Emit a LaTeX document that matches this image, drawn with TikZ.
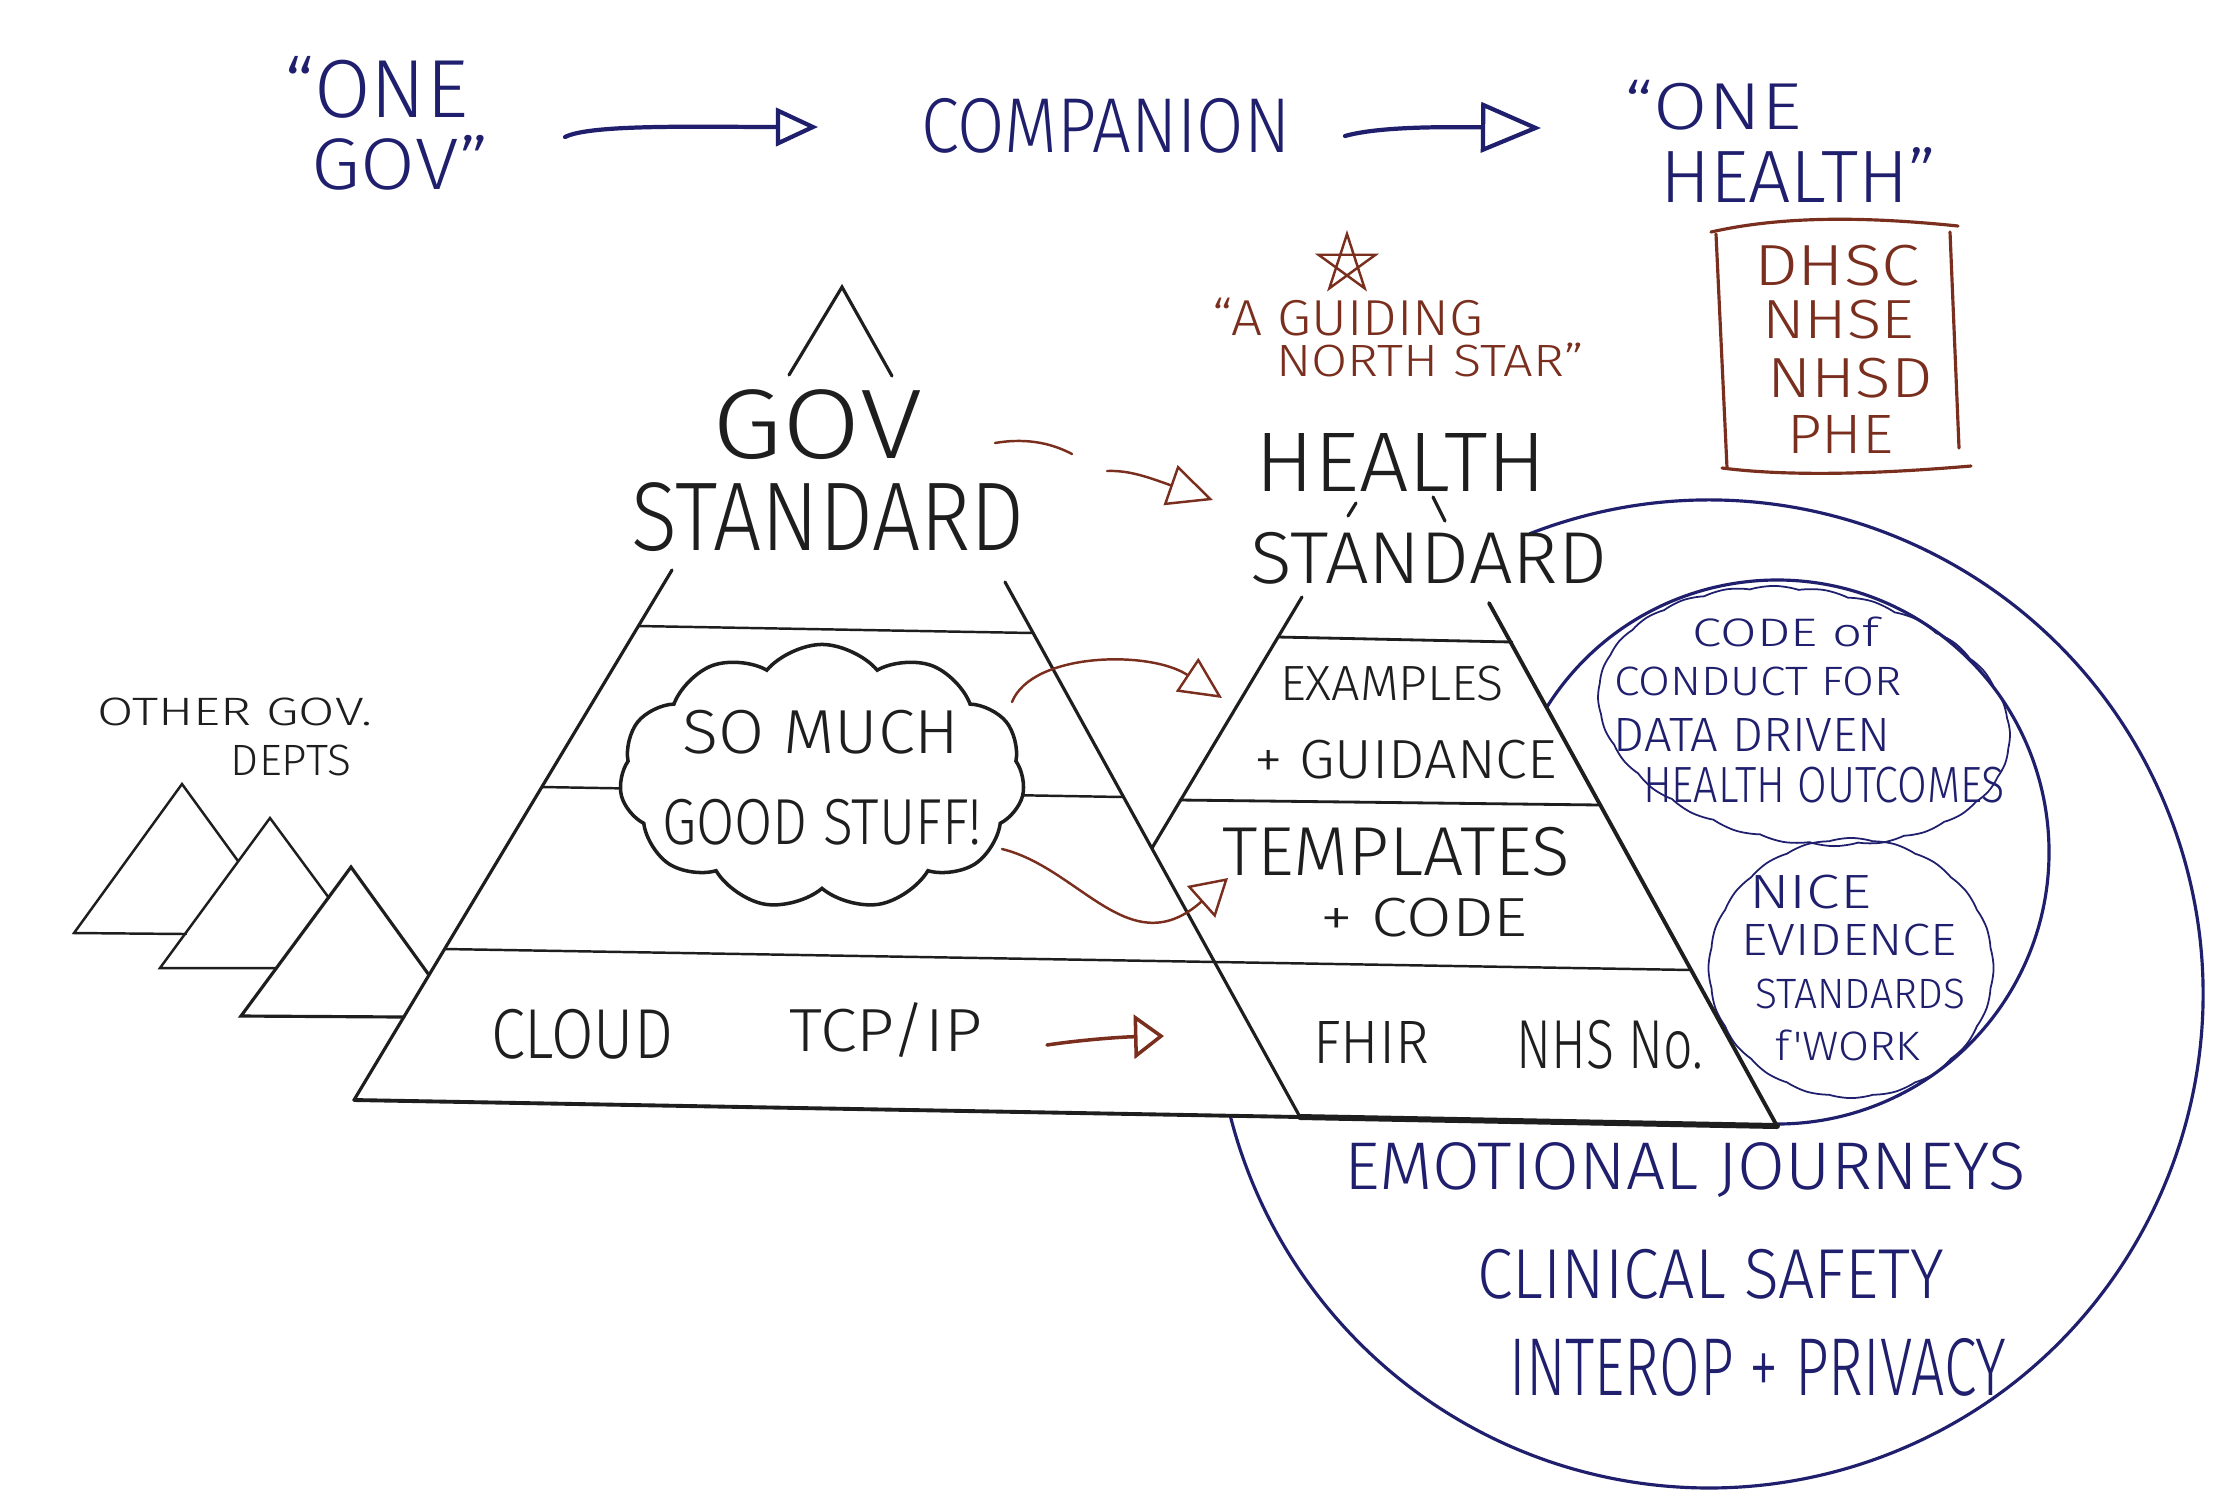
\documentclass[tikz,border=0pt]{standalone}
\usepackage{fontspec}
\usepackage{graphicx}
\IfFontExistsTF{Fira Sans Light}{\newfontfamily\handfont{Fira Sans Light}}{\newfontfamily\handfont{Fira Sans}}
\usetikzlibrary{arrows.meta,shapes.symbols,calc}
\definecolor{inkk}{HTML}{1E1E1E}
\definecolor{navy}{HTML}{1F1F6E}
\definecolor{rust}{HTML}{7A2E1E}
\newcommand{\hwt}[3]{\resizebox*{\dimexpr0.01cm*#1\relax}{\dimexpr0.01cm*#2\relax}{\handfont #3}}
\begin{document}
\begin{tikzpicture}[x=0.01cm,y=-0.01cm,
  txt/.style={inner sep=0pt,outer sep=0pt},
  blk/.style={txt,text=inkk},
  nv/.style={txt,text=navy},
  br/.style={txt,text=rust},
  pyr/.style={draw=inkk,line width=0.9pt,line cap=round},
  thin/.style={draw=inkk,line width=0.7pt,line cap=round},
  ring/.style={draw=navy,line width=0.9pt},
  blob/.style={cloud,draw=navy,line width=0.5pt,cloud ignores aspect},
  navyarrow/.style={draw=navy,line width=1.2pt,line cap=round,-{Triangle[open,length=0.42cm,width=0.38cm]}},
  rustline/.style={draw=rust,line width=0.7pt,line cap=round},
  rustarrow/.style={rustline,-{Triangle[open,length=0.42cm,width=0.4cm]}}]
\useasboundingbox (0,0) rectangle (2224,1511);
\fill[white] (0,0) rectangle (2224,1511);

% ---------- top row ----------
\node[nv] (onel) at (376,87) {\hwt{184}{62}{“ONE}};
\node[nv] (govl) at (400,163) {\hwt{177}{55}{GOV”}};
\node[nv] (companion) at (1106,126) {\hwt{369}{55}{COMPANION}};
\node[nv] (oneh) at (1713,105) {\hwt{177}{50}{“ONE}};
\node[nv] (healthq) at (1798,175) {\hwt{276}{55}{HEALTH”}};
\coordinate (a1s) at (565,137);
\coordinate (a1e) at (818,127);
\coordinate (a2s) at (1345,136);
\coordinate (a2e) at (1541,128);
\draw[navyarrow] (a1s) .. controls (590,124) and (700,127) .. (a1e);
\draw[navyarrow,-{Triangle[open,length=0.6cm,width=0.5cm]}] (a2s) .. controls (1380,126) and (1450,127) .. (a2e);

% ---------- north star + box ----------
\coordinate (star) at (1347,264);
\draw[rustline] ($(star)+(-90:30)$) -- ($(star)+(54:30)$) -- ($(star)+(198:30)$) -- ($(star)+(-18:30)$) -- ($(star)+(126:30)$) -- cycle;
\node[br] (guid1) at (1348,317) {\hwt{271}{38}{“A GUIDING}};
\node[br] (guid2) at (1430,360) {\hwt{307}{34}{NORTH STAR”}};
\draw[rustline,line width=0.9pt] (1711,232) .. controls (1790,214) and (1880,218) .. (1958,226);
\draw[rustline,line width=0.9pt] (1716,234) -- (1727,468);
\draw[rustline,line width=0.9pt] (1722,468) .. controls (1800,478) and (1900,472) .. (1971,466);
\draw[rustline,line width=0.9pt] (1950,232) -- (1959,448);
\node[br] (dhsc) at (1837,266) {\hwt{166}{41}{DHSC}};
\node[br] (nhse) at (1838,320) {\hwt{152}{39}{NHSE}};
\node[br] (nhsd) at (1850,378) {\hwt{165}{40}{NHSD}};
\node[br] (phe) at (1840,434) {\hwt{106}{38}{PHE}};

% ---------- big circles ----------
\coordinate (bigc) at (1709,994);
\draw[ring] ($(bigc)+(-111.3:494)$) arc[start angle=-111.3,end angle=165.8,radius=494];
\coordinate (innc) at (1777,852);
\draw[ring] ($(innc)+(-147.6:272)$) arc[start angle=-147.6,end angle=90,radius=272];
\node[blob,cloud puffs=26,cloud puff arc=35,minimum width=4.15cm,minimum height=2.55cm,rotate=-9] (cocblob) at (1804,716) {};
\node[blob,cloud puffs=20,cloud puff arc=35,minimum width=2.85cm,minimum height=2.6cm] (niceblob) at (1851,968) {};
\node[nv] (codeof) at (1786,632) {\hwt{187}{30}{CODE of}};
\node[nv] (conduct) at (1758,681) {\hwt{288}{29}{CONDUCT FOR}};
\node[nv] (datadriven) at (1752,735) {\hwt{277}{33}{DATA DRIVEN}};
\node[nv] (outcomes) at (1824,785) {\hwt{362}{36}{HEALTH OUTCOMES}};
\node[nv] (nice) at (1810,892) {\hwt{122}{34}{NICE}};
\node[nv] (evidence) at (1849,940) {\hwt{215}{32}{EVIDENCE}};
\node[nv] (standards) at (1860,994) {\hwt{210}{30}{STANDARDS}};
\node[nv] (fwork) at (1848,1045) {\hwt{145}{31}{f'WORK}};
\node[nv] (emo) at (1685,1170) {\hwt{682}{55}{EMOTIONAL JOURNEYS}};
\node[nv] (clin) at (1711,1274) {\hwt{467}{50}{CLINICAL SAFETY}};
\node[nv] (interop) at (1758,1367) {\hwt{497}{58}{INTEROP + PRIVACY}};

% ---------- other departments ----------
\node[blk] (other) at (235,712) {\hwt{274}{28}{OTHER GOV.}};
\node[blk] (depts) at (291,760) {\hwt{120}{31}{DEPTS}};
\draw[thin] (238,861) -- (182,784) -- (74,933) -- (186,934);
\draw[thin] (329,898) -- (270,818) -- (160,968) -- (276,968);
\draw[pyr] (429,975) -- (351,867) -- (241,1016) -- (404,1017);

% ---------- gov pyramid ----------
\draw[pyr] (789,375) -- (842,287) -- (892,376);
\node[blk] (gov) at (817,425) {\hwt{210}{70}{GOV}};
\node[blk] (govstd) at (828,517) {\hwt{393}{69}{STANDARD}};
\draw[pyr] (672,570) -- (354,1100);
\draw[pyr] (1005,582) -- (1300,1117);
\draw[pyr,line width=0.7pt] (638,626) -- (1033,633);
\draw[pyr,line width=0.7pt] (542,787) -- (1123,797);
\draw[pyr,line width=0.7pt] (445,949) -- (1692,970);
\draw[pyr,line width=1.1pt] (354,1100) -- (1300,1117);
\draw[pyr,line width=1.7pt] (1300,1117) -- (1777,1126);

% ---------- health pyramid ----------
\node[blk] (hl) at (1401,462) {\hwt{290}{58}{HEALTH}};
\node[blk] (hlstd) at (1429,558) {\hwt{356}{52}{STANDARD}};
\draw[pyr] (1356,503) -- (1348,516);
\draw[pyr] (1433,497) -- (1445,521);
\draw[pyr] (1302,597) -- (1152,848);
\draw[pyr,line width=1.1pt] (1489,603) -- (1777,1126);
\draw[pyr,line width=0.8pt] (1278,637) -- (1512,642);
\draw[pyr,line width=0.8pt] (1180,800) -- (1601,805);
\node[blk] (examples) at (1392,684) {\hwt{224}{35}{EXAMPLES}};
\node[blk] (guidance) at (1406,760) {\hwt{302}{39}{+ GUIDANCE}};
\node[blk] (templates) at (1396,852) {\hwt{348}{49}{TEMPLATES}};
\node[blk] (codeplus) at (1424,918) {\hwt{207}{39}{+ CODE}};
\node[blk] (fhir) at (1371,1042) {\hwt{116}{42}{FHIR}};
\node[blk] (nhsno) at (1610,1045) {\hwt{187}{49}{NHS No.}};

% ---------- gov texts ----------
\node[cloud,draw=inkk,fill=white,line width=1pt,cloud puffs=11,cloud puff arc=100,cloud ignores aspect,minimum width=4.05cm,minimum height=2.65cm] (goodcloud) at (822,777) {};
\node[blk] (somuch) at (821,732) {\hwt{277}{44}{SO MUCH}};
\node[blk] (goodstuff) at (822,822) {\hwt{320}{46}{GOOD STUFF!}};
\node[blk] (cloudtxt) at (582,1034) {\hwt{182}{50}{CLOUD}};
\node[blk] (tcpip) at (886,1030) {\hwt{193}{55}{TCP/IP}};

% ---------- rust connectors ----------
\coordinate (g2hs) at (995,443);
\coordinate (g2hm) at (1072,454);
\coordinate (g2hn) at (1107,471);
\coordinate (g2he) at (1213,500);
\draw[rustline] (g2hs) .. controls (1030,437) and (1055,445) .. (g2hm);
\draw[rustarrow,-{Triangle[open,length=0.45cm,width=0.42cm]}] (g2hn) .. controls (1130,470) and (1150,478) .. (g2he);
\coordinate (c1s) at (1012,702);
\coordinate (c1e) at (1222,698);
\draw[rustarrow] (c1s) .. controls (1032,652) and (1150,650) .. (c1e);
\coordinate (c2s) at (1002,849);
\coordinate (c2e) at (1228,878);
\draw[rustarrow,-{Triangle[open,length=0.36cm,width=0.42cm]}] (c2s) .. controls (1080,868) and (1130,965) .. (c2e);
\coordinate (t2fs) at (1047,1045);
\coordinate (t2fe) at (1164,1036);
\draw[rustarrow,line width=1pt,-{Triangle[open,length=0.3cm,width=0.44cm]}] (t2fs) .. controls (1080,1040) and (1120,1037) .. (t2fe);
\end{tikzpicture}
\end{document}
